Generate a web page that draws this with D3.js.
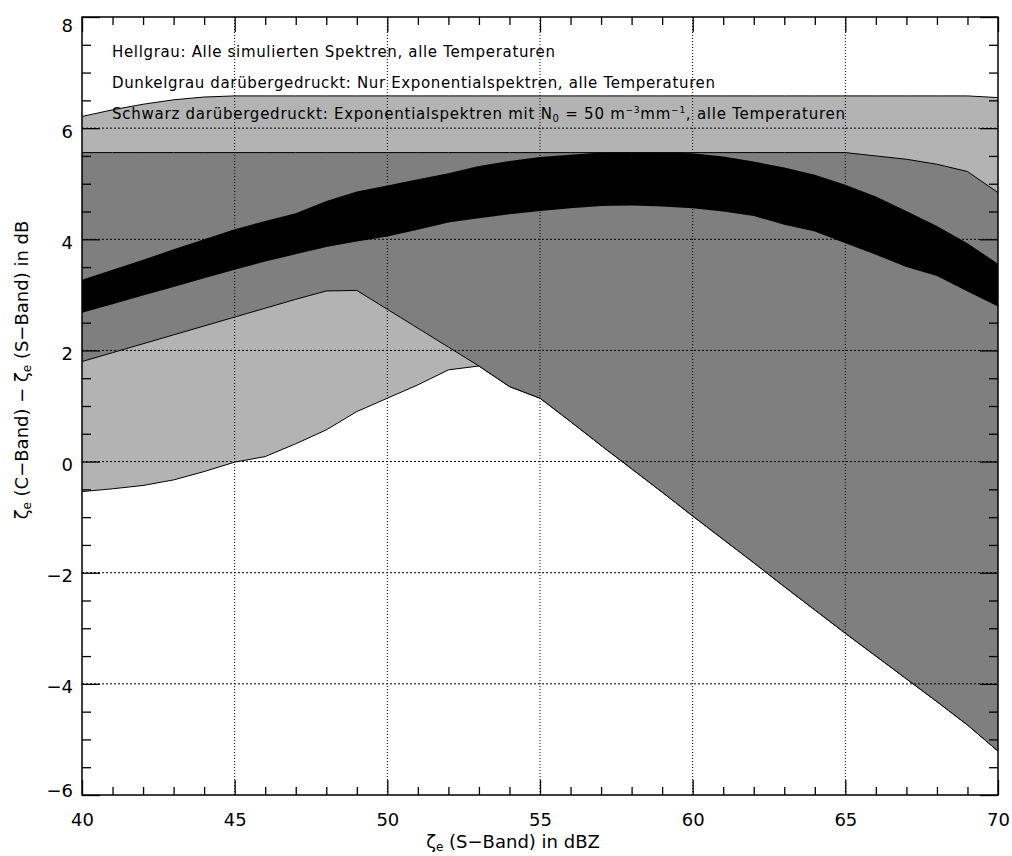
<!DOCTYPE html>
<html>
<head>
<meta charset="utf-8">
<script src="https://cdn.jsdelivr.net/npm/d3@7"></script>
<style>
  body { margin: 0; background: #fff; }
  svg { display: block; font-family: "DejaVu Sans", sans-serif; }
</style>
</head>
<body>
<svg id="chart" width="1012" height="856"></svg>
<script>
// x values (S-Band reflectivity, dBZ)
const xs = [40,41,42,43,44,45,46,47,48,49,50,51,52,53,54,55,56,57,58,59,60,61,62,63,64,65,66,67,68,69,70];

// Hellgrau: all simulated spectra
const lightUpper = [6.21,6.33,6.43,6.51,6.56,6.58,6.58,6.58,6.58,6.58,6.58,6.58,6.58,6.58,6.58,6.58,6.58,6.58,6.58,6.58,6.58,6.58,6.58,6.58,6.58,6.58,6.58,6.58,6.58,6.58,6.55];
const lightLower = [-0.54,-0.49,-0.43,-0.33,-0.18,-0.01,0.09,0.32,0.57,0.90,1.14,1.38,1.65,1.72,1.35,1.14,0.72,0.29,-0.13,-0.55,-0.98,-1.40,-1.82,-2.25,-2.67,-3.09,-3.50,-3.91,-4.32,-4.74,-5.21];

// Dunkelgrau: exponential spectra only
const darkUpper = [5.56,5.56,5.56,5.56,5.56,5.56,5.56,5.56,5.56,5.56,5.56,5.56,5.56,5.56,5.56,5.56,5.56,5.56,5.56,5.56,5.56,5.56,5.56,5.56,5.56,5.56,5.50,5.44,5.35,5.22,4.84];
const darkLower = [1.80,1.96,2.12,2.28,2.44,2.60,2.76,2.92,3.07,3.08,2.74,2.40,2.06,1.72,1.35,1.14,0.72,0.29,-0.13,-0.55,-0.98,-1.40,-1.82,-2.25,-2.67,-3.09,-3.50,-3.91,-4.32,-4.74,-5.21];

// Schwarz: exponential spectra with N0 = 50
const blackUpper = [3.27,3.45,3.63,3.82,4.00,4.18,4.33,4.47,4.69,4.86,4.97,5.08,5.19,5.32,5.41,5.48,5.52,5.56,5.56,5.56,5.55,5.49,5.40,5.29,5.16,4.98,4.77,4.51,4.24,3.93,3.56];
const blackLower = [2.68,2.83,2.99,3.14,3.30,3.45,3.60,3.73,3.86,3.96,4.05,4.17,4.30,4.38,4.45,4.51,4.56,4.60,4.61,4.59,4.56,4.50,4.42,4.26,4.14,3.93,3.72,3.50,3.34,3.06,2.79];

const xMajor = [40,45,50,55,60,65,70];
const yMajor = [-6,-4,-2,0,2,4,6,8];
const xGrid = [45,50,55,60,65];
const yGrid = [-4,-2,0,2,4,6];

const legendLines = [
  "Hellgrau: Alle simulierten Spektren, alle Temperaturen",
  "Dunkelgrau darübergedruckt: Nur Exponentialspektren, alle Temperaturen"
];
const legendWidths = [443, 603];

const svg = d3.select("#chart");
const pLeft = 82, pRight = 998, pTop = 17, pBottom = 795;

const x = d3.scaleLinear().domain([40, 70]).range([pLeft, pRight]);
const y = d3.scaleLinear().domain([-6, 8]).range([pBottom, pTop]);

const band = d3.area()
  .x(d => x(d.x))
  .y0(d => y(d.lo))
  .y1(d => y(d.hi));

function rows(lo, hi) {
  return xs.map((v, i) => ({ x: v, lo: lo[i], hi: hi[i] }));
}

const lineHi = d3.line().x(d => x(d.x)).y(d => y(d.hi));
const lineLo = d3.line().x(d => x(d.x)).y(d => y(d.lo));

/* BANDS */
[[lightLower, lightUpper, "#b3b3b3", true],
 [darkLower, darkUpper, "#7f7f7f", true],
 [blackLower, blackUpper, "#000", false]].forEach(([lo, hi, fill, outline]) => {
  const data = rows(lo, hi);
  svg.append("path").datum(data).attr("d", band).attr("fill", fill);
  if (outline) {
    svg.append("path").datum(data).attr("d", lineHi)
      .attr("fill", "none").attr("stroke", "#000").attr("stroke-width", 1);
    svg.append("path").datum(data).attr("d", lineLo)
      .attr("fill", "none").attr("stroke", "#000").attr("stroke-width", 1);
  }
});

/* GRID */
svg.append("g").selectAll("line").data(xGrid).enter().append("line")
  .attr("x1", d => x(d)).attr("x2", d => x(d))
  .attr("y1", pTop).attr("y2", pBottom)
  .attr("stroke", "#000").attr("stroke-width", 1).attr("stroke-dasharray", "1,2");
svg.append("g").selectAll("line").data(yGrid).enter().append("line")
  .attr("x1", pLeft).attr("x2", pRight)
  .attr("y1", d => y(d)).attr("y2", d => y(d))
  .attr("stroke", "#000").attr("stroke-width", 1).attr("stroke-dasharray", "2,2");

/* AXES (ticks inward on all four sides) */
function ticks(axis, pos, values, size, labels) {
  const g = svg.append("g").attr("transform", pos)
    .call(axis.tickValues(values).tickSize(-size).tickFormat(labels ? d3.format("d") : ""));
  g.select(".domain").remove();
  g.selectAll("line").attr("stroke", "#000").attr("stroke-width", 1.3);
  return g;
}
const xMinor = d3.range(40, 71, 1).filter(v => v % 5 !== 0);
const yMinor = d3.range(-6, 8.01, 0.5).filter(v => v % 2 !== 0);

const gx = ticks(d3.axisBottom(x), `translate(0,${pBottom})`, xMajor, 15, true);
ticks(d3.axisBottom(x), `translate(0,${pBottom})`, xMinor, 8, false);
ticks(d3.axisTop(x), `translate(0,${pTop})`, xMajor, 15, false);
ticks(d3.axisTop(x), `translate(0,${pTop})`, xMinor, 8, false);
const gy = ticks(d3.axisLeft(y), `translate(${pLeft},0)`, yMajor, 18, true);
ticks(d3.axisLeft(y), `translate(${pLeft},0)`, yMinor, 9, false);
ticks(d3.axisRight(y), `translate(${pRight},0)`, yMajor, 18, false);
ticks(d3.axisRight(y), `translate(${pRight},0)`, yMinor, 9, false);

gx.selectAll("text")
  .attr("y", 31).attr("dy", 0)
  .attr("font-size", 18).attr("font-family", "DejaVu Sans").attr("fill", "#000");
gy.selectAll("text")
  .attr("x", -9)
  .attr("dy", d => {
    const c = Math.min(Math.max(y(d) + 2.5, 25), 790);
    return (c - y(d) + 6.5) + "px";
  })
  .attr("font-size", 18).attr("font-family", "DejaVu Sans").attr("fill", "#000");

svg.append("rect")
  .attr("x", pLeft).attr("y", pTop)
  .attr("width", pRight - pLeft).attr("height", pBottom - pTop)
  .attr("fill", "none").attr("stroke", "#000").attr("stroke-width", 1.5);

/* LEGEND TEXT */
const legend = svg.append("g").attr("font-size", 15).attr("fill", "#000");
legend.selectAll("text.l").data(legendLines).enter().append("text")
  .attr("x", 112).attr("y", (d, i) => 57 + i * 31)
  .attr("textLength", (d, i) => legendWidths[i])
  .attr("lengthAdjust", "spacing")
  .text(d => d);

const l3 = legend.append("text").attr("x", 112).attr("y", 119)
  .attr("textLength", 733).attr("lengthAdjust", "spacing");
l3.append("tspan").text("Schwarz darübergedruckt: Exponentialspektren mit N");
l3.append("tspan").attr("font-size", 10).attr("dy", 3).text("0");
l3.append("tspan").attr("dy", -3).text(" = 50 m");
l3.append("tspan").attr("font-size", 9).attr("dy", -6).text("−3");
l3.append("tspan").attr("dy", 6).text("mm");
l3.append("tspan").attr("font-size", 9).attr("dy", -6).text("−1");
l3.append("tspan").attr("dy", 6).text(", alle Temperaturen");

/* AXIS TITLES */
const xt = svg.append("text").attr("x", 513).attr("y", 848)
  .attr("text-anchor", "middle").attr("font-size", 18);
xt.append("tspan").text("ζ");
xt.append("tspan").attr("font-size", 12).attr("dy", 3).text("e");
xt.append("tspan").attr("dy", -3).text(" (S−Band) in dBZ");

const yt = svg.append("text").attr("transform", "translate(28,370) rotate(-90)")
  .attr("text-anchor", "middle").attr("font-size", 18);
yt.append("tspan").text("ζ");
yt.append("tspan").attr("font-size", 12).attr("dy", 3).text("e");
yt.append("tspan").attr("dy", -3).text(" (C−Band) − ζ");
yt.append("tspan").attr("font-size", 12).attr("dy", 3).text("e");
yt.append("tspan").attr("dy", -3).text(" (S−Band) in dB");
</script>
</body>
</html>
